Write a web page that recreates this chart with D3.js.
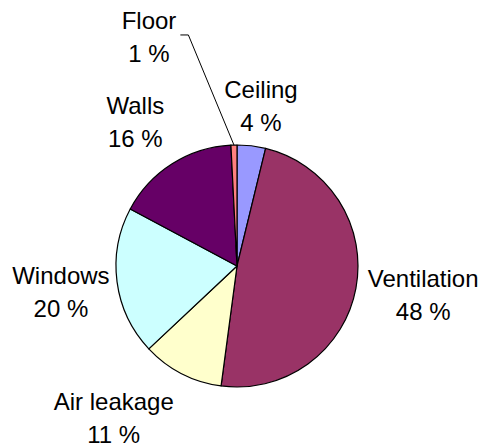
<!DOCTYPE html>
<html>
<head>
<meta charset="utf-8">
<script src="https://cdn.jsdelivr.net/npm/d3@7"></script>
<style>
  body { margin: 0; background: #fff; }
  svg { display: block; }
  text { font-family: "Liberation Sans", Arial, sans-serif; }
</style>
</head>
<body>
<svg id="chart" width="483" height="448"></svg>
<script>
// data (share of heat loss, %)
const categories = ['Ceiling', 'Ventilation', 'Air leakage', 'Windows', 'Walls', 'Floor']
const shares = [3.8, 48.3, 10.9, 19.8, 16.4, 0.8]
const pctLabels = ['4 %', '48 %', '11 %', '20 %', '16 %', '1 %']
const colors = ['#9999FF', '#993366', '#FFFFCC', '#CCFFFF', '#660066', '#FF8080']

// small manual shifts, like Excel's hand placed data labels
const nudges = [[4, -5], [3, 0], [-36, 13], [2, 5], [-16, -12], [-84, -73]]

const svg = d3.select('#chart')
const cx = 237
const cy = 266
const radius = 121
const fontSize = 24
const lineGap = 33
const capH = fontSize * 0.716

const data = categories.map((c, i) => ({ name: c, value: shares[i], pct: pctLabels[i], color: colors[i], nudge: nudges[i] }))

const pie = d3.pie()
  .sort(null)
  .value(d => d.value)

const arc = d3.arc()
  .innerRadius(0)
  .outerRadius(radius)

const arcs = pie(data)

const g = svg.append('g')
  .attr('transform', `translate(${cx}, ${cy})`)

g.selectAll('path.slice')
  .data(arcs)
  .enter()
  .append('path')
    .attr('class', 'slice')
    .attr('d', arc)
    .attr('fill', d => d.data.color)
    .style('stroke', '#000')
    .style('stroke-width', 1.2)
    .style('stroke-linejoin', 'round')

// labels: sit just outside the rim, then nudged
const labels = g.selectAll('g.lbl')
  .data(arcs)
  .enter()
  .append('g')
    .attr('class', 'lbl')

labels.each(function(d) {
  const sel = d3.select(this)
  const t1 = sel.append('text')
    .attr('text-anchor', 'middle')
    .style('font-size', fontSize + 'px')
    .text(d.data.name)
  sel.append('text')
    .attr('text-anchor', 'middle')
    .style('font-size', fontSize + 'px')
    .attr('y', lineGap)
    .text(d.data.pct)
  const hw = t1.node().getComputedTextLength() / 2
  const hh = (lineGap + capH) / 2
  const a = (d.startAngle + d.endAngle) / 2
  const pr = radius + 10
  const bx = pr * Math.sin(a) + hw * Math.sin(a) + d.data.nudge[0]
  const by = -pr * Math.cos(a) - hh * Math.cos(a) + d.data.nudge[1]
  d.lx = bx
  d.ly = by
  d.hw = hw
  sel.attr('transform', `translate(${bx}, ${by - hh + capH})`)
})

// leader line for the thin Floor slice
const floor = arcs[arcs.length - 1]
const fa = (floor.startAngle + floor.endAngle) / 2
const tip = [radius * Math.sin(fa), -radius * Math.cos(fa)]
const ly = floor.ly - 2
const startX = floor.lx + floor.hw + 4
g.append('path')
  .attr('d', `M${startX},${ly} L${startX + 8},${ly} L${tip[0]},${tip[1]}`)
  .attr('fill', 'none')
  .style('stroke', '#000')
  .style('stroke-width', 1)
</script>
</body>
</html>
